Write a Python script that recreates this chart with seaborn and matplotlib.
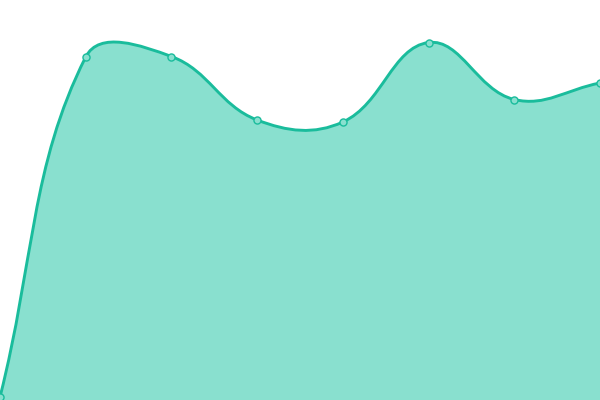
import matplotlib
matplotlib.use("Agg")
import matplotlib.pyplot as plt
from matplotlib.path import Path
from matplotlib.patches import PathPatch
import numpy as np
import pandas as pd
import seaborn as sns

# values (y axis 0..400)
positions = [0, 1, 2, 3, 4, 5, 6, 7]
values = [3, 343, 343.5, 280, 278, 357.5, 300.5, 317]

LINE = "#1abc9c"
FILL = "#89e0cf"

sns.set_theme(style="white")

fig = plt.figure(figsize=(6, 4), dpi=100)
ax = fig.add_axes([0, 0, 1, 1])

# smooth bezier control points (computed in pixel-like space, tension 0.4)
sx = 600 / 7
pts = np.column_stack([np.array(positions) * sx, np.array(values, dtype=float)])
n = len(pts)
cp_in, cp_out = [], []
for i in range(n):
    p = pts[i]
    prev = pts[i - 1] if i > 0 else p
    nxt = pts[i + 1] if i < n - 1 else p
    v = (nxt - prev) * 0.4
    d0 = np.hypot(*(p - prev))
    d1 = np.hypot(*(p - nxt))
    s = d0 + d1
    if s:
        d0, d1 = d0 / s, d1 / s
    cp_in.append(p - v * d0)
    cp_out.append(p + v * d1)

def to_data(q):
    return (q[0] / sx, q[1])

verts = [to_data(pts[0])]
codes = [Path.MOVETO]
for i in range(n - 1):
    verts += [to_data(cp_out[i]), to_data(cp_in[i + 1]), to_data(pts[i + 1])]
    codes += [Path.CURVE4] * 3

fill_verts = [(positions[0], 0)] + verts + [(positions[-1], 0), (positions[0], 0)]
fill_codes = [Path.MOVETO, Path.LINETO] + codes[1:] + [Path.LINETO, Path.CLOSEPOLY]
ax.add_patch(PathPatch(Path(fill_verts, fill_codes), facecolor=FILL, edgecolor="none", zorder=1))
ax.add_patch(PathPatch(Path(verts, codes), facecolor="none", edgecolor=LINE, lw=2.1, zorder=2))

df = pd.DataFrame({"x": positions, "y": values})
sns.scatterplot(data=df, x="x", y="y", ax=ax, s=26, color=FILL,
                edgecolor=LINE, linewidth=1, zorder=3, clip_on=False)
ax.set_xlim(0, 7)
ax.set_ylim(0, 400)
ax.axis("off")

fig.savefig("out.png", dpi=100)
